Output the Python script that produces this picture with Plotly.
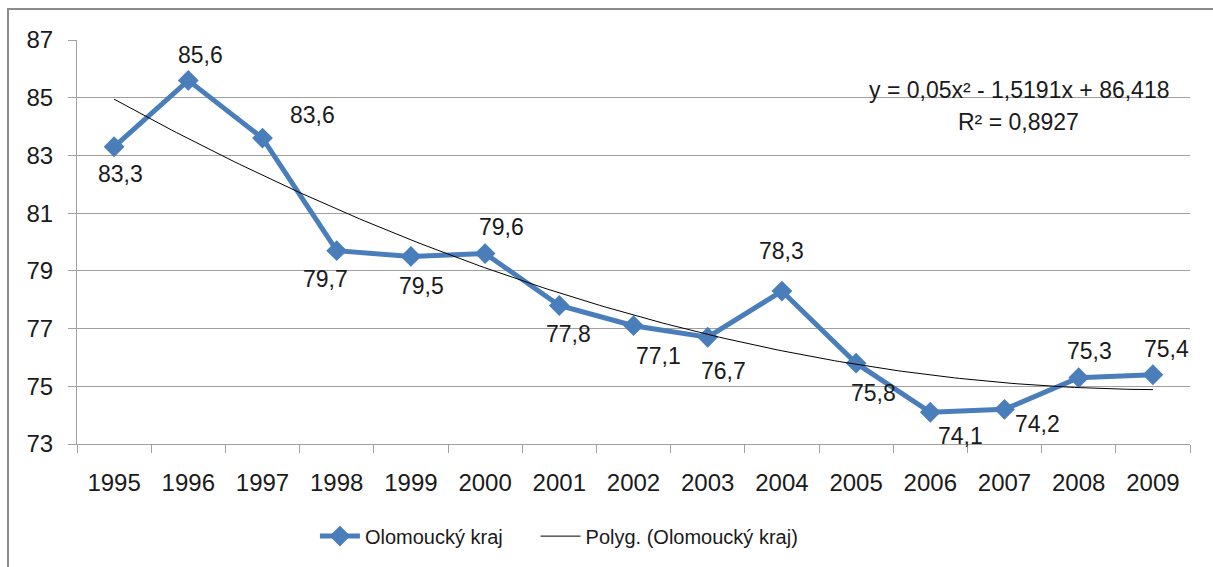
import numpy as np
import plotly.graph_objects as go

years = [1995, 1996, 1997, 1998, 1999, 2000, 2001, 2002, 2003, 2004, 2005, 2006, 2007, 2008, 2009]
values = [83.3, 85.6, 83.6, 79.7, 79.5, 79.6, 77.8, 77.1, 76.7, 78.3, 75.8, 74.1, 74.2, 75.3, 75.4]
labels = [f"{v:.1f}".replace(".", ",") for v in values]
series_name = "Olomoucký kraj"
trend_name = "Polyg. (Olomoucký kraj)"
eq_line1 = "y = 0,05x² - 1,5191x + 86,418"
eq_line2 = "R² = 0,8927"
y_ticks = [73, 75, 77, 79, 81, 83, 85, 87]

# label offsets in pixels (dx right, dy down) relative to each marker
label_offsets = [(6, 27), (12, -25), (50, -23), (-11, 28), (11, 30), (16, -27), (9, 29),
                 (25, 30), (16, 34), (0, -40), (17, 30), (30, 24), (33, 15), (11, -27), (14, -26)]

# polynomial (order 2) trendline fitted to the data, as the original chart does
idx = np.arange(1, len(values) + 1)
coef = np.polyfit(idx, values, 2)
t_dense = np.linspace(1, len(values), 200)
trend_y = np.polyval(coef, t_dense)
trend_x = years[0] - 1 + t_dense

FONT = "Liberation Sans"
BLUE = "#4A7EBB"
GRID = "#a0a0a0"
TXT = "#1a1a1a"
NBSP = "\u00a0"

fig = go.Figure()
fig.add_trace(go.Scatter(
    x=years, y=values, mode="lines+markers", name=series_name + NBSP * 5,
    line=dict(color=BLUE, width=5),
    marker=dict(symbol="diamond", size=16, color=BLUE),
))
fig.add_trace(go.Scatter(
    x=trend_x, y=trend_y, mode="lines", name=trend_name,
    line=dict(color="black", width=1),
))

annotations = []
for yr, v, lab, (dx, dy) in zip(years, values, labels, label_offsets):
    annotations.append(dict(x=yr, y=v, xref="x", yref="y", text=lab, showarrow=False,
                            xshift=dx, yshift=-dy,
                            font=dict(family=FONT, size=23, color=TXT)))
annotations.append(dict(x=0.846, y=0.876, xref="paper", yref="paper", text=eq_line1,
                        xanchor="center", yanchor="middle",
                        showarrow=False, font=dict(family=FONT, size=23, color=TXT)))
annotations.append(dict(x=0.846, y=0.797, xref="paper", yref="paper", text=eq_line2,
                        xanchor="center", yanchor="middle",
                        showarrow=False, font=dict(family=FONT, size=23, color=TXT)))

fig.update_layout(
    width=1213, height=567,
    margin=dict(l=77, r=23, t=40, b=123),
    paper_bgcolor="white", plot_bgcolor="white",
    font=dict(family=FONT, size=22, color=TXT),
    showlegend=True,
    legend=dict(orientation="h", x=0.433, xanchor="center", y=-0.228, yanchor="middle",
                font=dict(family=FONT, size=20, color=TXT), itemwidth=40,
                bgcolor="rgba(0,0,0,0)"),
    annotations=annotations,
    shapes=[dict(type="rect", xref="paper", yref="paper", x0=-0.062, x1=1.05,
                 y0=-0.35, y1=1.077, line=dict(color="#8c8c8c", width=2),
                 fillcolor="rgba(0,0,0,0)", layer="below")],
)
fig.update_xaxes(
    range=[1994.5, 2009.5], tickvals=years, ticktext=[str(y) for y in years],
    ticks="", showgrid=False, zeroline=False,
    showline=True, linecolor=GRID, linewidth=1,
    tickfont=dict(family=FONT, size=24, color=TXT),
    ticklabelstandoff=17,
    minor=dict(ticks="outside", tick0=1994.5, dtick=1, ticklen=8, tickcolor=GRID, tickwidth=1, showgrid=False),
)
fig.update_yaxes(
    range=[73, 87], tickvals=y_ticks, ticktext=[str(t) for t in y_ticks],
    ticks="outside", ticklen=8, tickcolor=GRID,
    showgrid=True, gridcolor=GRID, gridwidth=1, zeroline=False,
    showline=True, linecolor=GRID, linewidth=1,
    tickfont=dict(family=FONT, size=24, color=TXT),
    ticklabelstandoff=10,
)

fig.write_html("out.html", config={"displayModeBar": False},
               post_script="document.body.style.margin='0';document.body.style.overflow='hidden';")
